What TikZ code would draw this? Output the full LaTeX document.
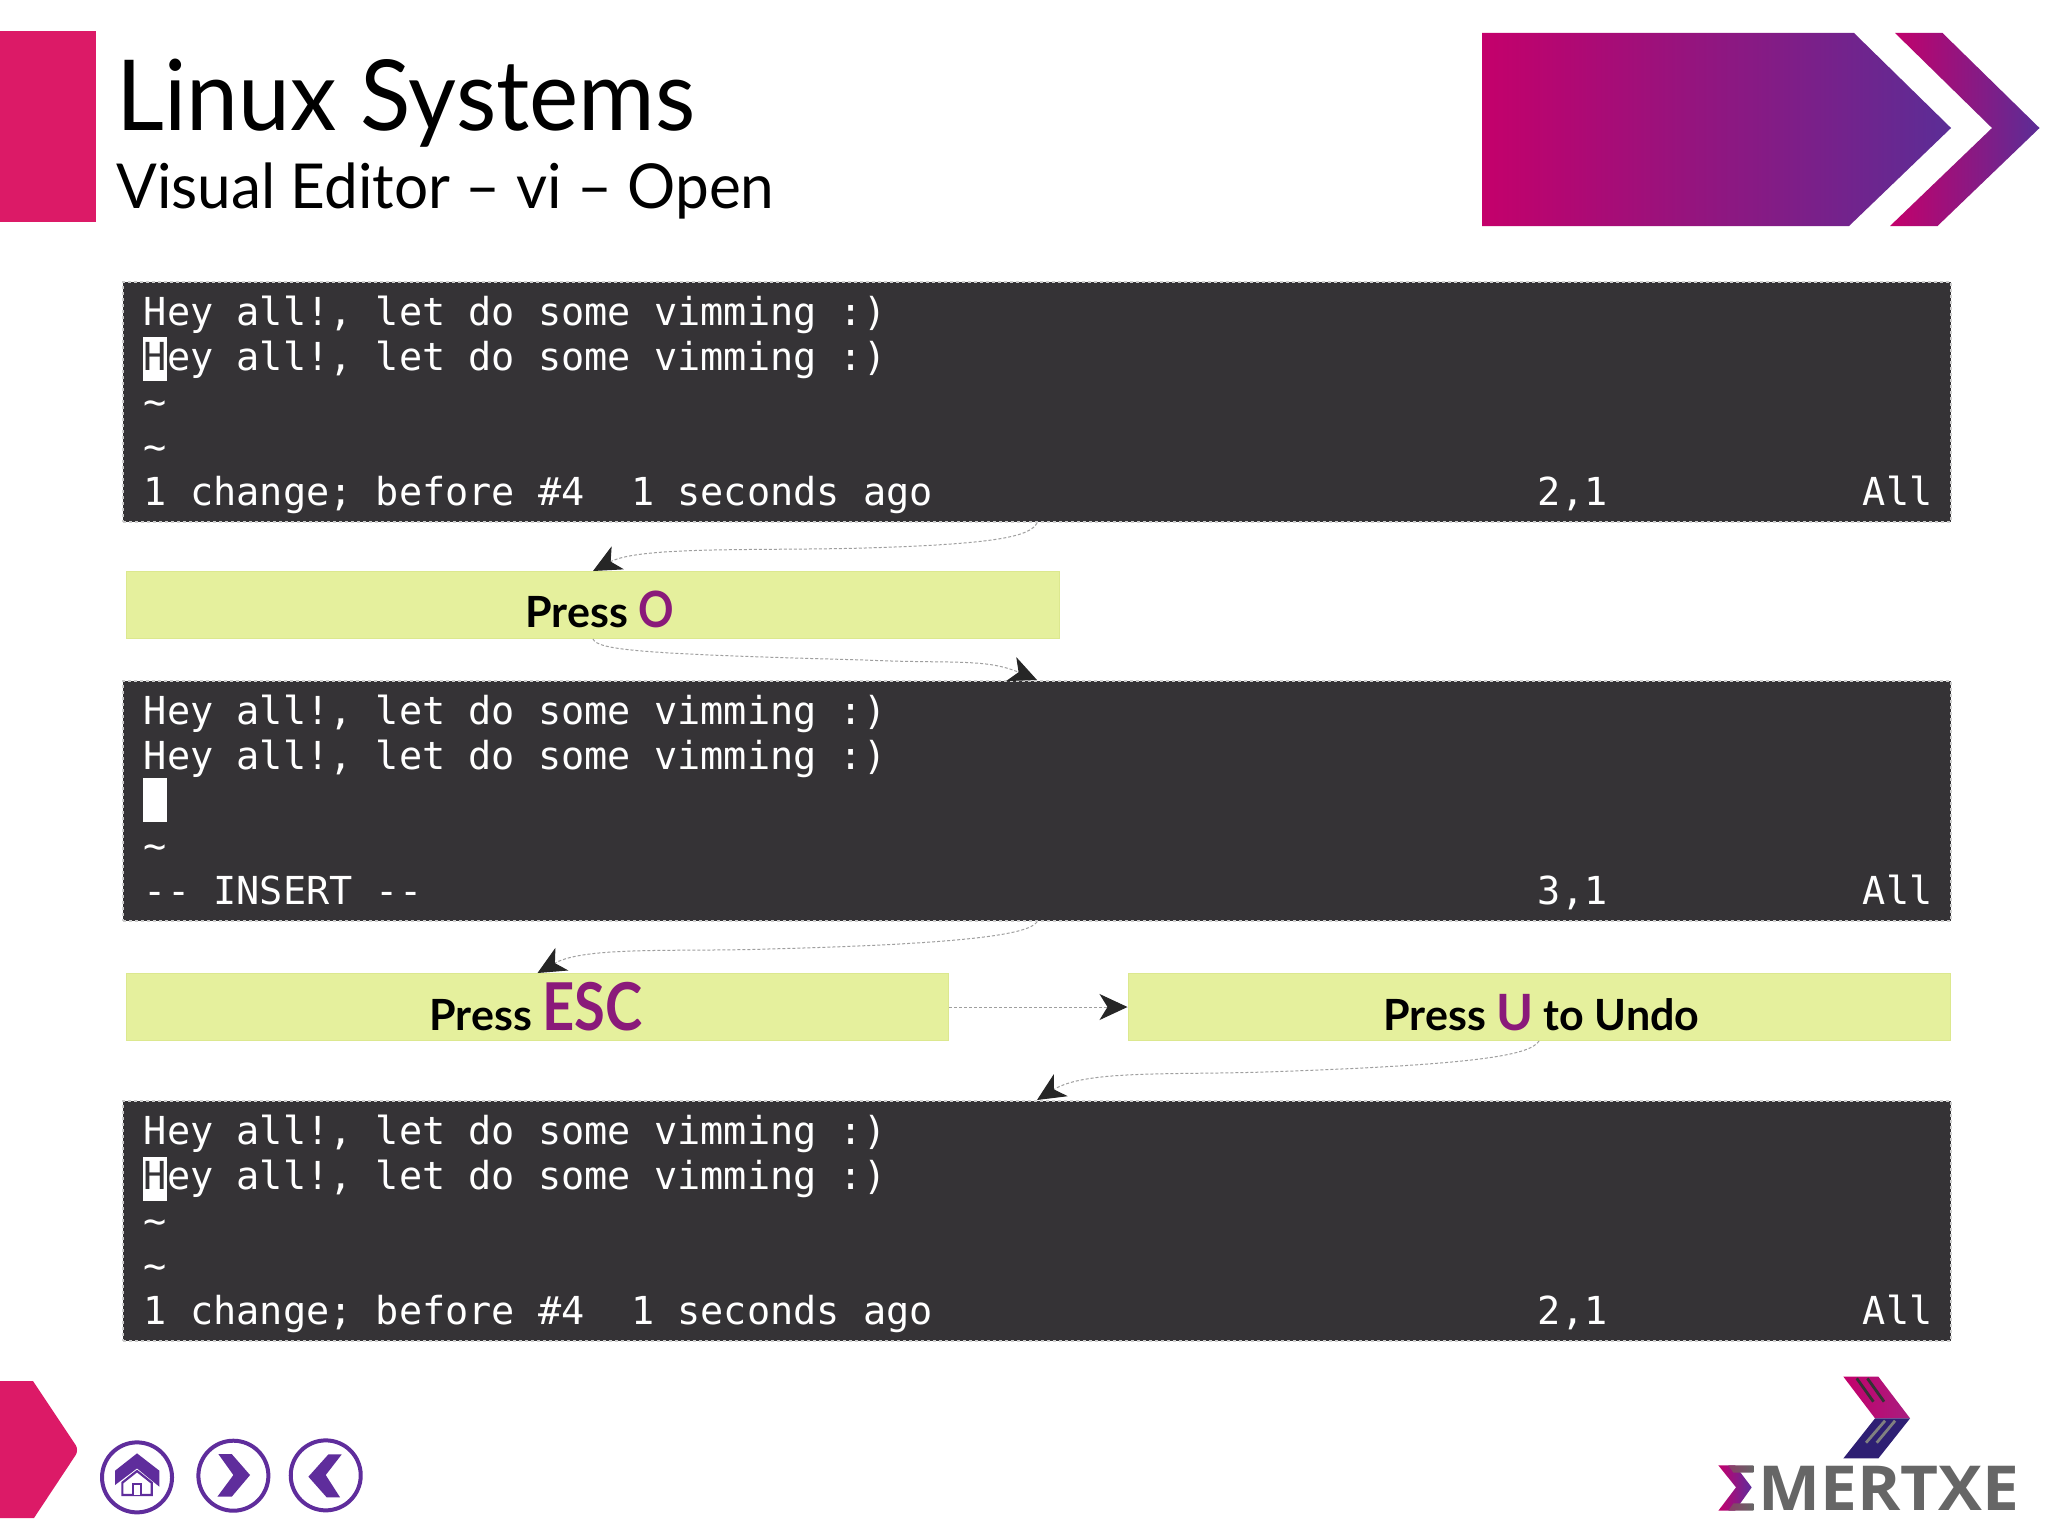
\documentclass[tikz,border=0pt]{standalone}
\usepackage{fontspec}
\setmainfont{Lato}
\newfontfamily\monof{DejaVu Sans Mono}
\newfontfamily\logof{Open Sans}
\usetikzlibrary{arrows.meta}
\definecolor{termbg}{HTML}{353336}
\definecolor{boxbg}{HTML}{E5F09D}
\definecolor{boxline}{HTML}{DCE88F}
\definecolor{pinkbar}{HTML}{DC1A67}
\definecolor{keypurple}{HTML}{8A1A7A}
\definecolor{iconpurple}{HTML}{5F2D9C}
\definecolor{bannerL}{HTML}{C4006B}
\definecolor{bannerM}{HTML}{A81E80}
\definecolor{bannerR}{HTML}{5B2D96}
\definecolor{logogray}{HTML}{666666}
\definecolor{logoindigo}{HTML}{2E1F73}
\tikzset{
  term/.style={draw=white!80!black,line width=1pt,dash pattern=on 1.5pt off 1.5pt,fill=termbg,anchor=north west,inner sep=0pt,minimum width=914pt,minimum height=120pt},
  keybox/.style={draw=boxline,line width=.5pt,fill=boxbg,anchor=north west,inner sep=0pt,minimum height=33.5pt},
  mono/.style={anchor=base west,inner sep=0pt,text=white,font=\monof\fontsize{19.27}{19.27}\selectfont},
  cursor/.style={fill=white,draw=none,anchor=north west,inner sep=0pt,minimum width=12pt,minimum height=22pt},
  presstext/.style={anchor=base west,inner sep=0pt,font=\fontsize{21.5}{21.5}\selectfont\bfseries},
  conn/.style={draw=gray!75,line width=.5pt,dash pattern=on 1.5pt off 1pt,-{Stealth[length=14pt,width=13pt,inset=4pt,color=black!85]}},
  navring/.style={draw=iconpurple,line width=2pt,fill=white},
  navfill/.style={fill=iconpurple,draw=none},
}
% name, x, baseline y, text
\newcommand{\tl}[4]{\node[mono] (#1) at (#2,#3) {#4};}
\begin{document}
\begin{tikzpicture}[x=0.5pt,y=-0.5pt]
\useasboundingbox (0,0) rectangle (2048,1536);
\fill[white] (0,0) rectangle (2048,1536);
% header
\fill[pinkbar] (0,31) rectangle (96,222);
\node[anchor=base west,inner sep=0pt,font=\fontsize{49}{49}\selectfont] (title) at (116,131) {\scalebox{.95}[1]{Linux Systems}};
\node[anchor=base west,inner sep=0pt,font=\fontsize{31}{31}\selectfont] (subtitle) at (116,208) {\scalebox{.972}[1]{Visual Editor – vi – Open}};
\shade[left color=bannerL,middle color=bannerM,right color=bannerR] (1482,33) -- (1854,33) -- (1951,128) -- (1849,226) -- (1482,226) -- cycle;
\shade[left color=bannerL,middle color=bannerM,right color=bannerR] (1895,33) -- (1942.5,33) -- (2039.5,128) -- (1937.5,226) -- (1890,226) -- (1992,128) -- cycle;
% terminals
\node[term] (t1) at (122,281) {};
\node[term] (t2) at (122,680) {};
\node[term] (t3) at (122,1100) {};
% terminal 1
\tl{a1}{143.5}{325}{Hey all!, let do some vimming :)}
\node[cursor] (ac) at (143,337) {};
\tl{a2}{143.5}{370}{\textcolor{termbg}{H}ey all!, let do some vimming :)}
\tl{a3}{143.5}{415}{\char`\~}
\tl{a4}{143.5}{460}{\char`\~}
\tl{a5}{143.5}{505}{1 change; before \#4~~1 seconds ago}
\tl{a6}{1537.5}{505}{2,1}
\tl{a7}{1862.5}{505}{All}
% terminal 2
\tl{b1}{143.5}{724}{Hey all!, let do some vimming :)}
\tl{b2}{143.5}{769}{Hey all!, let do some vimming :)}
\node[cursor] (bc) at (143,778) {};
\tl{b3}{143.5}{859}{\char`\~}
\tl{b4}{143.5}{904}{-- INSERT --}
\tl{b5}{1537.5}{904}{3,1}
\tl{b6}{1862.5}{904}{All}
% terminal 3
\tl{c1}{143.5}{1144}{Hey all!, let do some vimming :)}
\node[cursor] (cc) at (143,1157) {};
\tl{c2}{143.5}{1189}{\textcolor{termbg}{H}ey all!, let do some vimming :)}
\tl{c3}{143.5}{1234}{\char`\~}
\tl{c4}{143.5}{1279}{\char`\~}
\tl{c5}{143.5}{1324}{1 change; before \#4~~1 seconds ago}
\tl{c6}{1537.5}{1324}{2,1}
\tl{c7}{1862.5}{1324}{All}
% key boxes
\node[keybox,minimum width=466.5pt] (pressO) at (126,571) {};
\node[keybox,minimum width=411pt] (pressE) at (126,973) {};
\node[keybox,minimum width=411pt] (pressU) at (1127.5,973) {};
\node[presstext] (lo) at (525,627) {Press \textcolor{keypurple}{\scalebox{.88}[1]{\fontsize{25}{25}\selectfont O}}};
\node[presstext] (le) at (429,1030) {Press \textcolor{keypurple}{\scalebox{.85}[1]{\fontsize{33}{33}\selectfont ESC}}};
\node[presstext] (lu) at (1383,1030) {Press \textcolor{keypurple}{\fontsize{25}{25}\selectfont U} to Undo};
% connectors
\coordinate (m1) at (865,548);
\coordinate (m2) at (865,660);
\coordinate (m3) at (768,949);
\coordinate (m4) at (1265,1072);
\draw[conn] (t1.south) .. controls (1030,536) and (1000,544) .. (m1) .. controls (760,551) and (640,546) .. (pressO.north);
\draw[conn] (pressO.south) .. controls (598,650) and (640,654) .. (m2) .. controls (950,664) and (985,658) .. (t2.north);
\draw[conn] (t2.south) .. controls (1028,935) and (960,944) .. (m3) .. controls (680,952) and (585,946) .. (pressE.north);
\draw[conn] (pressU.south) .. controls (1530,1056) and (1470,1065) .. (m4) .. controls (1170,1075) and (1085,1070) .. (t3.north);
\draw[conn] (pressE.east) -- (pressU.west);
% bottom left pentagon
\fill[pinkbar] (-20,1381) -- (33,1381) [rounded corners=3pt] -- (79,1450) [sharp corners] -- (34,1518) -- (-20,1518) -- cycle;
% nav icons
\begin{scope}[shift={(0,1360)},x=.1667pt,y=-.1667pt]
\node[navring,circle,minimum size=35pt,inner sep=0pt] (home) at (411,352) {};
\node[navring,circle,minimum size=35pt,inner sep=0pt] (next) at (700,347) {};
\node[navring,circle,minimum size=35pt,inner sep=0pt] (prev) at (977,346) {};
\fill[navfill] (345,332) -- (411,280) -- (478,332) -- (478,380) -- (411,325) -- (345,375) -- cycle;
\draw[iconpurple,line width=1.1pt,fill=white] (367,368) -- (411,333) -- (455,368) -- (455,405) -- (367,405) -- cycle;
\draw[iconpurple,line width=1.1pt,fill=white] (400,405) -- (400,373) -- (422,373) -- (422,405);
\fill[navfill] (655,282) -- (695,282) -- (750,345) -- (695,410) -- (652,410) -- (700,345) -- cycle;
\fill[navfill] (985,283) -- (1025,283) -- (977,345) -- (1020,412) -- (980,412) -- (925,350) -- cycle;
\end{scope}
% logo
\begin{scope}[shift={(1700,1360)},x=.1667pt,y=-.1667pt]
\shade[left color=bannerL,right color=bannerM] (430,50) -- (535,50) -- (630,175) -- (525,175) -- cycle;
\fill[logoindigo] (525,175) -- (630,175) -- (535,295) -- (430,295) -- cycle;
\draw[black!80,line width=1.4pt] (470,55) -- (520,125) (502,55) -- (552,125);
\draw[gray,line width=1.4pt] (585,182) -- (530,248) (555,182) -- (498,248);
\shade[left color=bannerL,right color=iconpurple] (55,316) -- (105,316) -- (155,382) -- (105,452) -- (55,452) -- (108,382) -- cycle;
\shade[left color=logogray!60!bannerL,right color=logogray] (85,316) -- (160,316) -- (160,338) -- (100,338) -- cycle;
\shade[left color=logogray!60!bannerL,right color=logogray] (100,430) -- (160,430) -- (160,452) -- (85,452) -- cycle;
\node[anchor=base west,inner sep=0pt,text=logogray] (logo) at (174,452) {\scalebox{1.06}[1]{\logof\bfseries\fontsize{31}{31}\selectfont MERTXE}};
\end{scope}
\end{tikzpicture}
\end{document}
